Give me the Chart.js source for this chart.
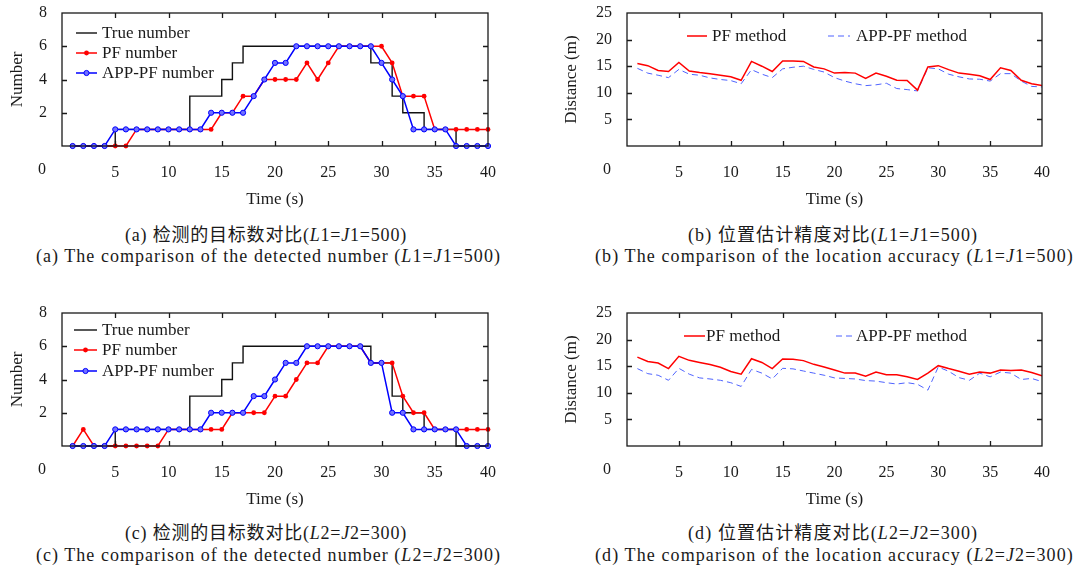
<!DOCTYPE html>
<html>
<head>
<meta charset="utf-8">
<script src="https://cdn.jsdelivr.net/npm/chart.js@4.4.0/dist/chart.umd.min.js"></script>
<style>
  body { margin: 0; background: #fff; width: 1077px; height: 572px; position: relative; overflow: hidden; }
  canvas { position: absolute; }
  .cap { position: absolute; white-space: nowrap; font-family: 'Liberation Serif', 'Noto Sans CJK SC', serif; font-size: 18px; line-height: 20px; color: #1a1a1a; }
  .cap i { font-style: italic; }
</style>
</head>
<body>
<canvas id="numA" width="540" height="215" style="left:0;top:0"></canvas>
<canvas id="distB" width="537" height="215" style="left:540px;top:0"></canvas>
<canvas id="numC" width="540" height="215" style="left:0;top:300px"></canvas>
<canvas id="distD" width="537" height="215" style="left:540px;top:300px"></canvas>

<div class="cap" data-w="282" style="left:125px;top:225px">(a) 检测的目标数对比(<i>L</i>1=<i>J</i>1=500)</div>
<div class="cap" data-w="465" style="left:36px;top:246px">(a) The comparison of the detected number (<i>L</i>1=<i>J</i>1=500)</div>
<div class="cap" data-w="290" style="left:688px;top:225px">(b) 位置估计精度对比(<i>L</i>1=<i>J</i>1=500)</div>
<div class="cap" data-w="479" style="left:595px;top:246px">(b) The comparison of the location accuracy (<i>L</i>1=<i>J</i>1=500)</div>
<div class="cap" data-w="282" style="left:125px;top:523px">(c) 检测的目标数对比(<i>L</i>2=<i>J</i>2=300)</div>
<div class="cap" data-w="465" style="left:36px;top:545px">(c) The comparison of the detected number (<i>L</i>2=<i>J</i>2=300)</div>
<div class="cap" data-w="290" style="left:688px;top:523px">(d) 位置估计精度对比(<i>L</i>2=<i>J</i>2=300)</div>
<div class="cap" data-w="479" style="left:595px;top:545px">(d) The comparison of the location accuracy (<i>L</i>2=<i>J</i>2=300)</div>

<script>
// time steps (s)
const time = [1,2,3,4,5,6,7,8,9,10,11,12,13,14,15,16,17,18,19,20,
              21,22,23,24,25,26,27,28,29,30,31,32,33,34,35,36,37,38,39,40];

// (a) L1=J1=500 : detected number
const trueNumA = [0,0,0,0,1,1,1,1,1,1,1,3,3,3,4,5,6,6,6,6,6,6,6,6,6,6,6,6,5,5,3,2,2,1,1,1,0,0,0,0];
const pfNumA   = [0,0,0,0,0,0,1,1,1,1,1,1,1,1,2,2,3,3,4,4,4,4,5,4,5,6,6,6,6,6,5,3,3,3,1,1,1,1,1,1];
const appNumA  = [0,0,0,0,1,1,1,1,1,1,1,1,1,2,2,2,2,3,4,5,5,6,6,6,6,6,6,6,6,5,4,3,1,1,1,1,0,0,0,0];

// (c) L2=J2=300 : detected number
const trueNumC = [0,0,0,0,1,1,1,1,1,1,1,3,3,3,4,5,6,6,6,6,6,6,6,6,6,6,6,6,5,5,3,2,2,1,1,1,0,0,0,0];
const pfNumC   = [0,1,0,0,0,0,0,0,0,1,1,1,1,1,1,2,2,2,2,3,3,4,5,5,6,6,6,6,5,5,5,3,2,2,1,1,1,1,1,1];
const appNumC  = [0,0,0,0,1,1,1,1,1,1,1,1,1,2,2,2,2,3,3,4,5,5,6,6,6,6,6,6,5,5,2,2,1,1,1,1,1,0,0,0];

// (b) L1=J1=500 : location error (m)
const pfDistB  = [15.5,15.1,14.2,14.0,15.7,14.1,13.8,13.6,13.3,13.0,12.35,15.9,15.0,14.0,16.0,16.0,15.9,14.85,14.5,13.7,
                  13.8,13.7,12.7,13.7,13.1,12.35,12.3,10.5,14.85,15.1,14.35,13.7,13.5,13.2,12.5,14.7,14.2,12.35,11.7,11.35];
const appDistB = [14.6,13.7,13.3,12.85,14.4,13.5,13.3,12.8,12.5,12.3,11.7,14.35,13.5,12.85,14.5,14.8,15.0,14.4,13.9,12.85,
                  12.2,11.7,11.35,11.5,11.8,10.8,10.6,10.35,14.7,14.5,13.5,13.0,12.6,12.55,12.2,13.6,13.6,12.2,11.2,11.1];

// (d) L2=J2=300 : location error (m)
const pfDistD  = [16.7,15.9,15.6,14.55,16.85,16.1,15.7,15.3,14.8,14.0,13.5,16.4,15.7,14.55,16.35,16.3,16.05,15.35,14.85,14.3,
                  13.7,13.7,13.1,13.9,13.4,13.4,13.0,12.5,13.7,15.1,14.55,14.05,13.5,13.9,13.7,14.3,14.2,14.3,13.8,13.2];
const appDistD = [14.55,13.6,13.3,12.35,14.6,13.5,12.8,12.6,12.35,11.9,11.2,14.4,13.7,12.6,14.6,14.5,14.1,13.7,13.3,12.8,
                  12.7,12.6,12.3,12.2,11.9,11.65,11.9,11.6,10.5,14.85,14.05,12.85,12.35,13.7,13.0,13.9,13.7,12.5,12.7,12.1];

const FONT = "'Liberation Serif', serif";
const INK = '#1a1a1a';

const pts = ys => time.map((t, i) => ({ x: t, y: ys[i] }));

// gnuplot-like frame with inward mirrored ticks, corner "0" and key
const framePlugin = {
  id: 'frame',
  afterDatasetsDraw(chart, args, opts) {
    const { ctx, chartArea: a, scales: { x, y } } = chart;
    ctx.save();
    ctx.strokeStyle = INK;
    ctx.lineWidth = 1.3;
    ctx.strokeRect(a.left, a.top, a.right - a.left, a.bottom - a.top);
    ctx.beginPath();
    x.ticks.forEach(t => {
      if (t.value <= x.min || t.value >= x.max) return;
      const px = Math.round(x.getPixelForValue(t.value)) + 0.5;
      ctx.moveTo(px, a.bottom); ctx.lineTo(px, a.bottom - 5);
      ctx.moveTo(px, a.top); ctx.lineTo(px, a.top + 5);
    });
    y.ticks.forEach(t => {
      if (t.value <= y.min || t.value >= y.max) return;
      const py = Math.round(y.getPixelForValue(t.value)) + 0.5;
      ctx.moveTo(a.left, py); ctx.lineTo(a.left + 5, py);
      ctx.moveTo(a.right, py); ctx.lineTo(a.right - 5, py);
    });
    ctx.stroke();

    ctx.fillStyle = INK;
    ctx.font = '16px ' + FONT;
    ctx.textAlign = 'center';
    ctx.textBaseline = 'middle';
    ctx.fillText('0', a.left - 20, a.bottom + 24);

    // key
    ctx.textAlign = 'left';
    ctx.font = '17px ' + FONT;
    (opts.items || []).forEach(it => {
      const ds = chart.data.datasets[it.ds];
      ctx.save();
      ctx.strokeStyle = ds.borderColor;
      ctx.lineWidth = ds.borderWidth;
      ctx.setLineDash(ds.borderDash || []);
      ctx.beginPath();
      ctx.moveTo(it.x1, it.y); ctx.lineTo(it.x2, it.y);
      ctx.stroke();
      ctx.restore();
      if (ds.pointRadius > 0) {
        ctx.beginPath();
        ctx.arc((it.x1 + it.x2) / 2, it.y, ds.pointRadius, 0, Math.PI * 2);
        ctx.fillStyle = ds.pointBackgroundColor;
        ctx.fill();
        if (ds.pointBorderWidth) {
          ctx.lineWidth = ds.pointBorderWidth;
          ctx.strokeStyle = ds.pointBorderColor;
          ctx.stroke();
        }
      }
      ctx.fillStyle = INK;
      ctx.fillText(ds.label, it.tx, it.y + 1);
    });
    ctx.restore();
  }
};

function axisCommon(extra) {
  return Object.assign({
    grid: { display: false, drawTicks: false },
    border: { display: false },
  }, extra);
}

function xScale() {
  return axisCommon({
    type: 'linear', min: 0, max: 40,
    afterFit: s => { s.height = 69; s.paddingLeft = 0; s.paddingRight = 0; },
    ticks: { stepSize: 5, padding: 17, color: INK, font: { family: FONT, size: 16 },
             autoSkip: false, maxRotation: 0, callback: v => v === 0 ? '' : v },
    title: { display: true, text: 'Time (s)', color: INK, font: { family: FONT, size: 17 },
             padding: { top: 0, bottom: 5 } }
  });
}

function yFit(w) {
  return s => { s.width = w; s.paddingTop = 0; s.paddingBottom = 0; };
}

function numberChart(id, tru, pf, app, items) {
  new Chart(document.getElementById(id), {
    type: 'line',
    data: {
      datasets: [
        { label: 'APP-PF number', data: pts(app), order: 1, borderColor: '#0000ff', borderWidth: 1.5,
          pointRadius: 2.6, pointBorderColor: '#0000ff', pointBorderWidth: 1,
          pointBackgroundColor: '#7070ff', clip: false },
        { label: 'PF number', data: pts(pf), order: 2, borderColor: '#ff0000', borderWidth: 1.5,
          pointRadius: 2.4, pointBorderWidth: 0, pointBackgroundColor: '#ff0000', clip: false },
        { label: 'True number', data: pts(tru), order: 3, borderColor: '#111111', borderWidth: 1.4,
          pointRadius: 0, stepped: 'before', clip: false }
      ]
    },
    options: {
      responsive: false, animation: false,
      layout: { padding: { top: 13, right: 52, left: 0, bottom: 0 } },
      plugins: { legend: { display: false }, tooltip: { enabled: false }, frame: { items } },
      scales: {
        x: xScale(),
        y: axisCommon({
          min: 0, max: 8,
          afterFit: yFit(62),
          ticks: { stepSize: 2, padding: 15, color: INK, font: { family: FONT, size: 16 },
                   callback: v => v === 0 ? '' : v },
          title: { display: true, text: 'Number', color: INK, font: { family: FONT, size: 17 },
                   padding: { top: 7, bottom: 0 } }
        })
      }
    },
    plugins: [framePlugin]
  });
}

function distChart(id, pf, app, items) {
  new Chart(document.getElementById(id), {
    type: 'line',
    data: {
      datasets: [
        { label: 'PF method', data: pts(pf), borderColor: '#ff0000', borderWidth: 1.5, pointRadius: 0 },
        { label: 'APP-PF method', data: pts(app), borderColor: '#4f63ff', borderWidth: 1,
          borderDash: [6, 4], pointRadius: 0 }
      ]
    },
    options: {
      responsive: false, animation: false,
      layout: { padding: { top: 13, right: 35, left: 0, bottom: 0 } },
      plugins: { legend: { display: false }, tooltip: { enabled: false }, frame: { items } },
      scales: {
        x: xScale(),
        y: axisCommon({
          min: 0, max: 25,
          afterFit: yFit(87),
          ticks: { stepSize: 5, padding: 15, color: INK, font: { family: FONT, size: 16 },
                   callback: v => v === 0 ? '' : v },
          title: { display: true, text: 'Distance (m)', color: INK, font: { family: FONT, size: 17 },
                   padding: { top: 21, bottom: 0 } }
        })
      }
    },
    plugins: [framePlugin]
  });
}

numberChart('numA', trueNumA, pfNumA, appNumA, [
  { ds: 2, x1: 76, x2: 97, tx: 102, y: 33 },
  { ds: 1, x1: 76, x2: 97, tx: 102, y: 53 },
  { ds: 0, x1: 76, x2: 97, tx: 102, y: 73 }
]);
distChart('distB', pfDistB, appDistB, [
  { ds: 0, x1: 147, x2: 167, tx: 172, y: 36 },
  { ds: 1, x1: 288, x2: 310, tx: 316, y: 36 }
]);
numberChart('numC', trueNumC, pfNumC, appNumC, [
  { ds: 2, x1: 74, x2: 97, tx: 102, y: 30 },
  { ds: 1, x1: 74, x2: 97, tx: 102, y: 50 },
  { ds: 0, x1: 74, x2: 97, tx: 102, y: 71 }
]);
distChart('distD', pfDistD, appDistD, [
  { ds: 0, x1: 144, x2: 165, tx: 166, y: 36 },
  { ds: 1, x1: 296, x2: 315, tx: 316, y: 36 }
]);

// stretch captions to the width they take in the figure
document.querySelectorAll('.cap').forEach(el => {
  const target = +el.dataset.w;
  const n = el.textContent.length;
  const extra = (target - el.getBoundingClientRect().width) / n;
  el.style.letterSpacing = extra.toFixed(2) + 'px';
});
</script>
</body>
</html>
